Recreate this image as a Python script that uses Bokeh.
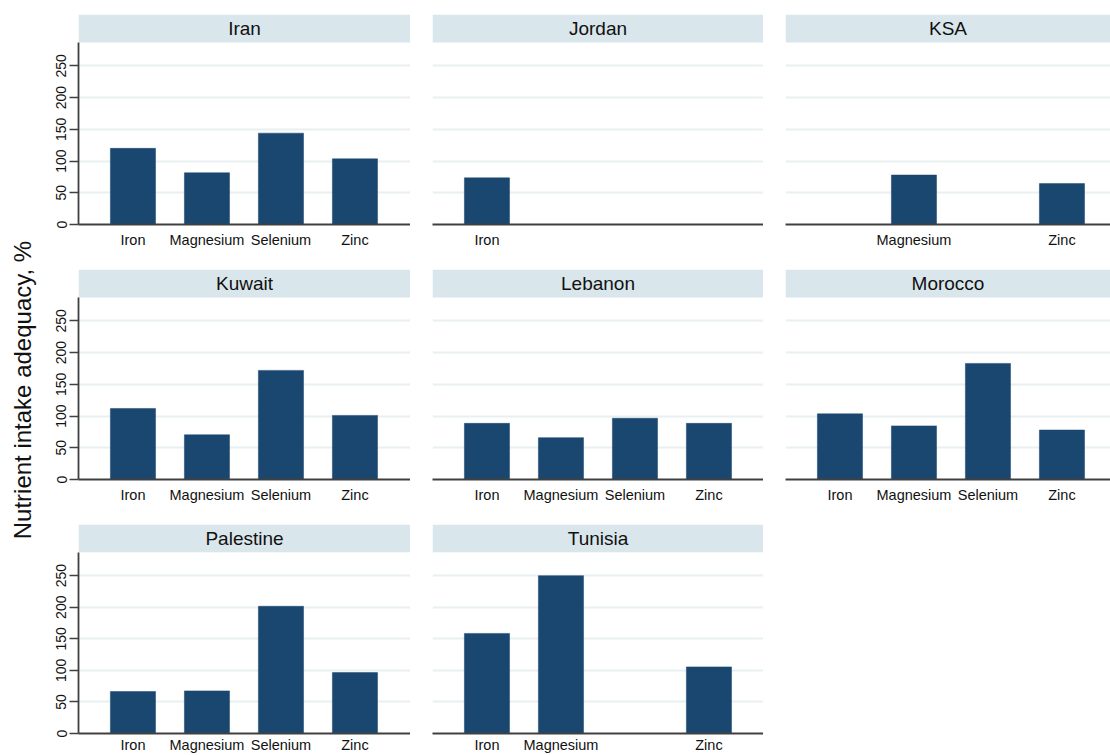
from bokeh.plotting import figure
from bokeh.layouts import row, column
from bokeh.models import FixedTicker, BoxAnnotation, Label, Range1d, ColumnDataSource
from bokeh.embed import file_html
from bokeh.resources import INLINE

# ---- data -------------------------------------------------------------
nutrients = ["Iron", "Magnesium", "Selenium", "Zinc"]
countries = ["Iran", "Jordan", "KSA", "Kuwait", "Lebanon", "Morocco", "Palestine", "Tunisia"]

# Nutrient intake adequacy (%) per country; None = not reported
iron      = [120.0, 73.5, None, 112.0, 88.5, 103.5, 66.5, 158.5]
magnesium = [81.5, None, 78.0, 70.5, 66.0, 84.5, 67.5, 250.0]
selenium  = [144.0, None, None, 172.0, 96.5, 183.0, 201.5, None]
zinc      = [103.5, None, 64.5, 101.0, 88.5, 78.0, 96.5, 105.5]

y_ticks = [0, 50, 100, 150, 200, 250]
y_title = "Nutrient intake adequacy, %"

series = {"Iron": iron, "Magnesium": magnesium, "Selenium": selenium, "Zinc": zinc}

# ---- style ------------------------------------------------------------
BAR = "#1A476F"
STRIP = "#D9E6EB"
GRID = "#E8F0F2"
AXIS = "#404040"
TEXT = "#111111"
FONT = "Liberation Sans"

SLOT_PX = 74.0          # pixels per nutrient slot
X0 = -0.736             # left edge of each panel, in slot units
Y_TOP = 331.0           # top of frame (includes the strip)
STRIP_BOTTOM = 287.0    # where the country strip starts
FRAME_H = 210
TOP_BORDER = 14

col_frame_w = [332, 331, 325]
col_left = [38, 22, 22]


def panel(i):
    c, r = i % 3, i // 3
    name = countries[i]
    idx = [k for k, n in enumerate(nutrients) if series[n][i] is not None]
    vals = [series[nutrients[k]][i] for k in idx]

    fw = col_frame_w[c]
    left = col_left[c]
    bottom = 31 if r < 2 else 21
    x1 = X0 + fw / SLOT_PX

    p = figure(width=left + fw, height=TOP_BORDER + FRAME_H + bottom,
               min_border_left=left, min_border_right=0,
               min_border_top=TOP_BORDER, min_border_bottom=bottom,
               x_range=Range1d(X0, x1), y_range=Range1d(0, Y_TOP),
               output_backend="svg", toolbar_location=None, tools="")
    p.outline_line_color = None
    p.background_fill_color = "white"
    p.border_fill_color = "white"

    src = ColumnDataSource(dict(x=idx, top=vals))
    p.vbar(x="x", top="top", bottom=0, width=0.61, source=src,
           fill_color=BAR, line_color=BAR, line_width=0.5)

    # country strip
    p.add_layout(BoxAnnotation(bottom=STRIP_BOTTOM, fill_color=STRIP, fill_alpha=1.0,
                               line_color=None, level="underlay"))
    p.add_layout(Label(x=(X0 + x1) / 2, y=(STRIP_BOTTOM + Y_TOP) / 2, text=name,
                       text_align="center", text_baseline="middle",
                       text_font=FONT, text_font_size="19px", text_color=TEXT))

    # grid
    p.xgrid.visible = False
    p.ygrid.ticker = FixedTicker(ticks=y_ticks[1:])
    p.ygrid.grid_line_color = GRID
    p.ygrid.grid_line_width = 2

    # x axis
    xa = p.xaxis[0]
    xa.ticker = FixedTicker(ticks=idx)
    xa.major_label_overrides = {k: nutrients[k] for k in idx}
    xa.major_tick_out = 0
    xa.major_tick_in = 0
    xa.minor_tick_out = 0
    xa.minor_tick_in = 0
    xa.axis_line_color = AXIS
    xa.axis_line_width = 1.8
    xa.major_label_text_font = FONT
    xa.major_label_text_font_size = "14.5px"
    xa.major_label_text_color = TEXT
    xa.major_label_standoff = 7 if r < 2 else 3

    # y axis
    ya = p.yaxis[0]
    if c == 0:
        ya.ticker = FixedTicker(ticks=y_ticks)
        ya.bounds = (0, STRIP_BOTTOM)
        ya.major_label_orientation = "vertical"
        ya.major_tick_out = 9
        ya.major_tick_in = 0
        ya.minor_tick_out = 0
        ya.minor_tick_in = 0
        ya.axis_line_color = AXIS
        ya.axis_line_width = 1.8
        ya.major_tick_line_color = AXIS
        ya.major_tick_line_width = 1.5
        ya.major_label_text_font = FONT
        ya.major_label_text_font_size = "14px"
        ya.major_label_text_color = TEXT
        ya.major_label_standoff = 3
    else:
        ya.visible = False
    return p


panels = [panel(i) for i in range(len(countries))]

# shared y title
tf = figure(width=40, height=755, x_range=Range1d(0, 1), y_range=Range1d(0, 1),
            x_axis_location=None, y_axis_location=None, min_border=0,
            output_backend="svg", toolbar_location=None, tools="")
tf.outline_line_color = None
tf.grid.visible = False
tf.add_layout(Label(x=0.55, y=0.484, text=y_title, angle=90, angle_units="deg",
                    text_align="center", text_baseline="middle",
                    text_font=FONT, text_font_size="24px", text_color=TEXT))

grid = column(row(*panels[0:3]), row(*panels[3:6]), row(*panels[6:8]))
layout = row(tf, grid)

open("out.html", "w").write(file_html(layout, INLINE))
